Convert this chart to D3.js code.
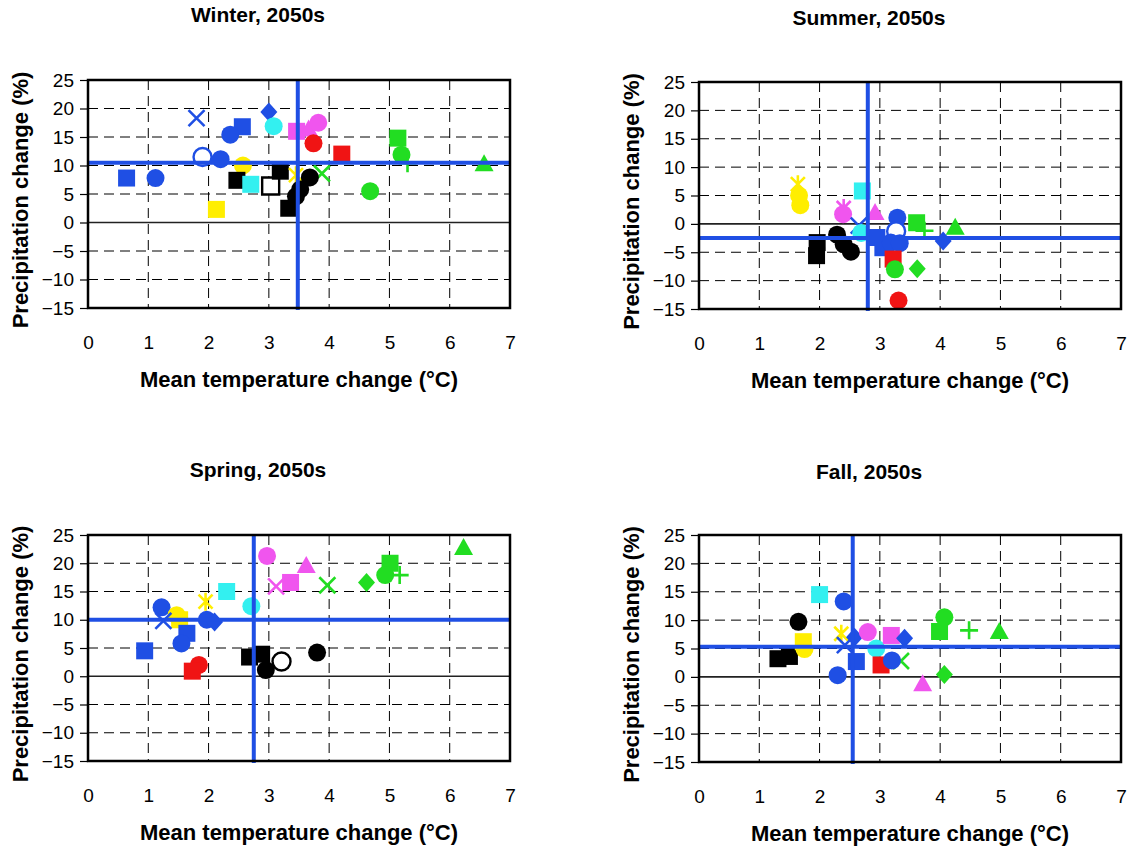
<!DOCTYPE html>
<html>
<head>
<meta charset="utf-8">
<script src="https://cdn.jsdelivr.net/npm/d3@7"></script>
<style>
  body { margin: 0; background: #fff; }
  svg { display: block; font-family: "Liberation Sans", Arial, sans-serif; }
</style>
</head>
<body>
<div id="chart"></div>
<script>
// season names and the blue mean lines (temperature, precipitation)
var seasons = ["Winter", "Summer", "Spring", "Fall"];
var meanT = [3.48, 2.80, 2.75, 2.55];
var meanP = [10.5, -2.5, 10.0, 5.3];

var xTicks = [0, 1, 2, 3, 4, 5, 6, 7];
var yTicks = [25, 20, 15, 10, 5, 0, -5, -10, -15];

// each point: [colour, marker, temperature change, precipitation change]
var winter = [
  ["blue", "x", 1.80, 18.3], ["blue", "diamond", 3.00, 19.4], ["cyan", "circle", 3.08, 16.9],
  ["blue", "square", 2.56, 16.8], ["blue", "circle", 2.36, 15.4], ["magenta", "square", 3.46, 16.0],
  ["magenta", "triangle", 3.66, 16.4], ["magenta", "circle", 3.82, 17.5], ["red", "circle", 3.74, 13.9],
  ["red", "square", 4.21, 12.0], ["green", "square", 5.14, 14.8], ["green", "circle", 5.20, 11.9],
  ["green", "plus", 5.30, 10.4], ["green", "triangle", 6.57, 10.3], ["green", "x", 3.88, 8.6],
  ["green", "circle", 4.68, 5.5], ["blue", "opencircle", 1.90, 11.5], ["blue", "circle", 2.20, 11.1],
  ["blue", "square", 0.64, 7.8], ["blue", "circle", 1.12, 7.8], ["yellow", "circle", 2.57, 10.0],
  ["black", "square", 2.47, 7.4], ["cyan", "square", 2.70, 6.7], ["black", "opensquare", 3.03, 6.4],
  ["black", "square", 3.19, 9.0], ["yellow", "star", 3.45, 8.3], ["black", "circle", 3.68, 7.9],
  ["black", "circle", 3.52, 5.8], ["black", "circle", 3.45, 4.6], ["black", "square", 3.33, 2.5],
  ["yellow", "square", 2.13, 2.3]
];
var summer = [
  ["yellow", "star", 1.64, 7.0], ["yellow", "circle", 1.66, 5.0], ["yellow", "circle", 1.68, 3.3],
  ["cyan", "square", 2.71, 5.8], ["magenta", "star", 2.40, 2.8], ["magenta", "circle", 2.39, 1.7],
  ["magenta", "triangle", 2.92, 2.0], ["blue", "x", 2.65, -0.3], ["cyan", "circle", 2.69, -1.6],
  ["blue", "circle", 3.29, 1.1], ["blue", "opencircle", 3.27, -1.3], ["green", "square", 3.61, 0.2],
  ["green", "plus", 3.74, -1.2], ["green", "triangle", 4.25, -0.6], ["blue", "diamond", 4.05, -3.0],
  ["blue", "square", 2.95, -2.4], ["blue", "square", 3.05, -4.2], ["blue", "circle", 3.18, -3.3],
  ["blue", "circle", 3.33, -3.4], ["black", "square", 1.96, -3.3], ["black", "square", 1.95, -5.6],
  ["black", "circle", 2.29, -1.9], ["black", "circle", 2.40, -3.6], ["black", "circle", 2.52, -4.9],
  ["red", "square", 3.22, -6.2], ["green", "circle", 3.25, -8.0], ["green", "diamond", 3.62, -7.9],
  ["red", "circle", 3.31, -13.5]
];
var spring = [
  ["green", "triangle", 6.23, 22.8], ["magenta", "circle", 2.97, 21.3], ["magenta", "triangle", 3.62, 19.6],
  ["magenta", "square", 3.36, 16.6], ["magenta", "x", 3.12, 15.9], ["green", "x", 3.97, 16.1],
  ["green", "square", 5.01, 20.0], ["green", "circle", 4.93, 17.9], ["green", "plus", 5.17, 17.9],
  ["green", "diamond", 4.62, 16.6], ["cyan", "square", 2.30, 15.0], ["cyan", "circle", 2.71, 12.4],
  ["yellow", "star", 1.95, 13.2], ["blue", "circle", 1.22, 12.2], ["yellow", "circle", 1.47, 10.8],
  ["yellow", "square", 1.52, 10.0], ["blue", "x", 1.25, 9.8], ["blue", "circle", 1.97, 10.0],
  ["blue", "diamond", 2.10, 9.6], ["blue", "square", 1.64, 7.6], ["blue", "circle", 1.55, 5.8],
  ["blue", "square", 0.94, 4.5], ["red", "circle", 1.84, 2.0], ["red", "square", 1.73, 0.9],
  ["black", "square", 2.68, 3.4], ["black", "square", 2.88, 3.9], ["black", "circle", 2.95, 1.1],
  ["black", "opencircle", 3.21, 2.6], ["black", "circle", 3.80, 4.2]
];
var fall = [
  ["cyan", "square", 2.00, 14.5], ["blue", "circle", 2.40, 13.3], ["black", "circle", 1.65, 9.7],
  ["black", "square", 1.31, 3.2], ["black", "square", 1.50, 3.6], ["yellow", "square", 1.73, 6.2],
  ["yellow", "circle", 1.75, 4.9], ["yellow", "star", 2.36, 7.6], ["blue", "x", 2.42, 5.6],
  ["blue", "diamond", 2.58, 7.0], ["blue", "square", 2.61, 2.7], ["blue", "circle", 2.30, 0.3],
  ["magenta", "circle", 2.80, 7.9], ["cyan", "circle", 2.94, 5.0], ["magenta", "square", 3.19, 7.3],
  ["blue", "diamond", 3.41, 6.8], ["red", "square", 3.02, 2.1], ["green", "x", 3.35, 2.8],
  ["blue", "circle", 3.20, 2.9], ["magenta", "triangle", 3.71, -1.2], ["green", "diamond", 4.07, 0.4],
  ["green", "circle", 4.07, 10.5], ["green", "square", 3.99, 8.0], ["green", "plus", 4.48, 8.2],
  ["green", "triangle", 4.98, 8.0]
];
var seasonData = [winter, summer, spring, fall];

var colors = {
  blue: "#1f4fe4", black: "#000", yellow: "#ffee00", cyan: "#33f0f0",
  magenta: "#f055ee", red: "#f01414", green: "#22dd22"
};

// plot boxes of the four panels (pixels)
var panels = [
  {x0: 88, y0: 80, x1: 510, y1: 308, tx: 258, ty: 22},
  {x0: 699, y0: 82, x1: 1121, y1: 309, tx: 869, ty: 25},
  {x0: 88, y0: 535, x1: 510, y1: 761, tx: 258, ty: 477},
  {x0: 699, y0: 535, x1: 1121, y1: 762, tx: 869, ty: 479}
];

// marker paths, centred on 0,0
function markerPath(type) {
  switch (type) {
    case "square": case "opensquare": return "M-8.5,-8.5h17v17h-17Z";
    case "diamond": return "M0,-9.5L8.5,0L0,9.5L-8.5,0Z";
    case "triangle": return "M0,-9.5L9.5,7.5H-9.5Z";
    case "x": return "M-8,-8L8,8M-8,8L8,-8";
    case "plus": return "M-9,0H9M0,-9V9";
    case "star": return "M-7,-7L7,7M-7,7L7,-7M0,-9V9";
    default: return d3.symbol(d3.symbolCircle, 254)();
  }
}

var svg = d3.select("#chart").append("svg")
  .attr("width", 1130).attr("height", 846);

panels.forEach(function(p, i) {
  var x = d3.scaleLinear().domain([0, 7]).range([p.x0, p.x1]);
  var y = d3.scaleLinear().domain([-15, 25]).range([p.y1, p.y0]);
  var g = svg.append("g");

  // dashed grid
  g.selectAll(".vgrid").data(xTicks.slice(1, -1)).enter().append("line")
    .attr("x1", function(d) { return x(d); }).attr("x2", function(d) { return x(d); })
    .attr("y1", p.y0).attr("y2", p.y1)
    .style("stroke", "#000").style("stroke-width", 1).style("stroke-dasharray", "10,6");
  g.selectAll(".hgrid").data(yTicks.slice(1, -1)).enter().append("line")
    .attr("x1", p.x0).attr("x2", p.x1)
    .attr("y1", function(d) { return y(d); }).attr("y2", function(d) { return y(d); })
    .style("stroke", function(d) { return d === 0 ? "#222" : "#000"; })
    .style("stroke-width", function(d) { return d === 0 ? 1.6 : 1; })
    .style("stroke-dasharray", function(d) { return d === 0 ? null : "10,6"; });

  // y axis ticks and labels
  var yAxis = d3.axisLeft(y).tickValues(yTicks).tickSize(8).tickPadding(6);
  var ya = g.append("g").attr("transform", "translate(" + p.x0 + ",0)").call(yAxis);
  ya.select(".domain").remove();
  ya.selectAll("line").style("stroke", "#000").style("stroke-width", 1.2);
  ya.selectAll("text").style("font-size", "19px").style("fill", "#000");

  // x axis labels, no tick marks
  var xAxis = d3.axisBottom(x).tickValues(xTicks).tickFormat(d3.format("d")).tickSize(0).tickPadding(0);
  var xa = g.append("g").attr("transform", "translate(0," + (p.y1 + 27) + ")").call(xAxis);
  xa.select(".domain").remove();
  xa.selectAll("text").style("font-size", "19px").style("fill", "#000");

  // points
  g.selectAll(".pt").data(seasonData[i]).enter().append("path")
    .attr("transform", function(d) { return "translate(" + x(d[2]) + "," + y(d[3]) + ")"; })
    .attr("d", function(d) { return markerPath(d[1]); })
    .each(function(d) {
      var sel = d3.select(this), c = colors[d[0]];
      if (d[1] === "x" || d[1] === "plus" || d[1] === "star") {
        sel.style("fill", "none").style("stroke", c).style("stroke-width", 2.6);
      } else if (d[1] === "opencircle" || d[1] === "opensquare") {
        sel.style("fill", "#fff").style("stroke", c).style("stroke-width", 2.4);
      } else {
        sel.style("fill", c);
      }
    });

  // mean lines
  g.append("line")
    .attr("x1", x(meanT[i])).attr("x2", x(meanT[i]))
    .attr("y1", p.y0).attr("y2", p.y1 + 2)
    .style("stroke", "#1f4fe4").style("stroke-width", 4);
  g.append("line")
    .attr("x1", p.x0).attr("x2", p.x1)
    .attr("y1", y(meanP[i])).attr("y2", y(meanP[i]))
    .style("stroke", "#1f4fe4").style("stroke-width", 4);

  // frame
  g.append("rect")
    .attr("x", p.x0).attr("y", p.y0)
    .attr("width", p.x1 - p.x0).attr("height", p.y1 - p.y0)
    .style("fill", "none").style("stroke", "#000").style("stroke-width", 2.5);

  // titles
  g.append("text")
    .attr("x", p.tx).attr("y", p.ty)
    .style("text-anchor", "middle").style("font-weight", "bold").style("font-size", "21px")
    .text(seasons[i] + ", 2050s");
  g.append("text")
    .attr("x", (p.x0 + p.x1) / 2).attr("y", p.y1 + 79)
    .style("text-anchor", "middle").style("font-weight", "bold").style("font-size", "22px")
    .text("Mean temperature change (°C)");
  g.append("text")
    .attr("transform", "translate(" + (p.x0 - 60) + "," + ((p.y0 + p.y1) / 2 + 6) + ") rotate(-90)")
    .style("text-anchor", "middle").style("font-weight", "bold").style("font-size", "22px")
    .text("Precipitation change (%)");
});
</script>
</body>
</html>
